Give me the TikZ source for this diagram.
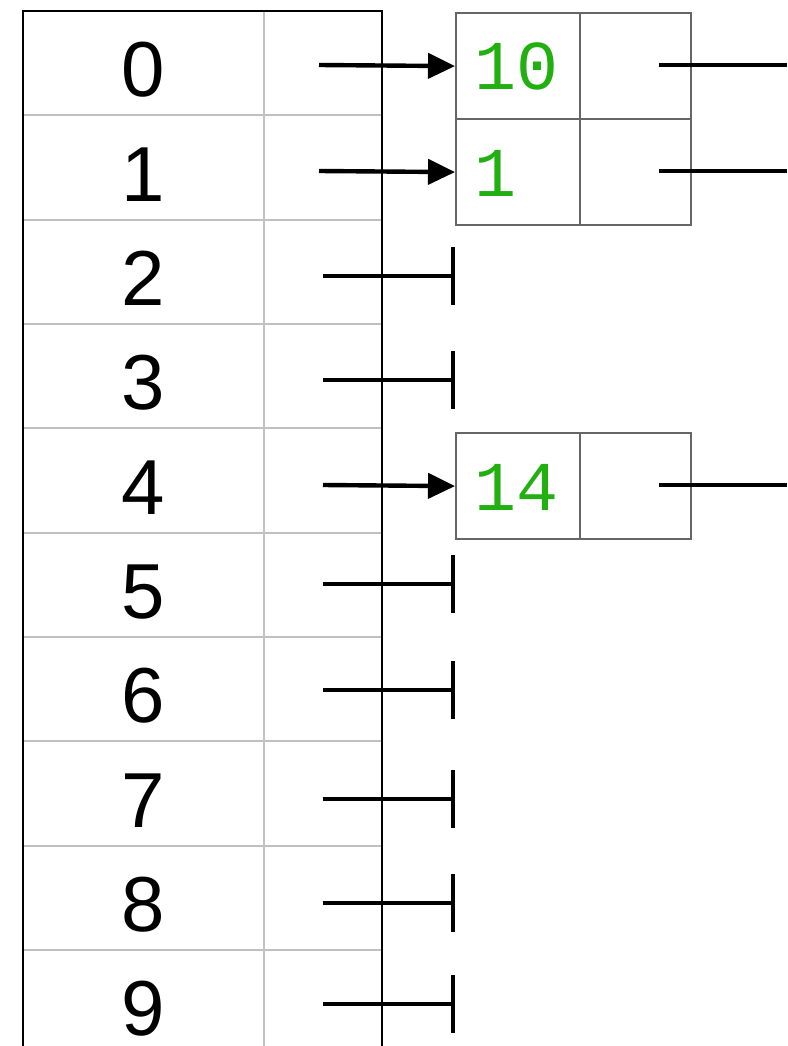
\documentclass[tikz,border=0pt]{standalone}
\usepackage{fontspec}
\setmainfont{Liberation Sans}
\newfontfamily\monof{Liberation Mono}
\usetikzlibrary{arrows.meta}
\definecolor{keygreen}{HTML}{22B011}
\definecolor{boxgray}{HTML}{666666}
\definecolor{gridgray}{HTML}{C0C0C0}
\tikzset{
  gridline/.style={draw=gridgray, line width=2pt},
  border/.style={draw=black, line width=2pt},
  cell/.style={draw=boxgray, line width=2.2pt, rectangle, anchor=north west, inner sep=0pt, minimum height=106pt},
  keycell/.style={cell, minimum width=124pt},
  nextcell/.style={cell, minimum width=111pt},
  idx/.style={anchor=base, inner sep=0pt, font=\fontsize{78}{80}\selectfont},
  keytext/.style={anchor=base west, inner sep=0pt, text=keygreen, font=\monof\fontsize{70}{72}\selectfont},
  ptr/.style={line width=4.4pt, -{Triangle[length=27pt,width=25pt]}},
  nullptr/.style={line width=4.4pt, -{Bar[width=58pt]}},
  outline/.style={line width=4.4pt},
}
\begin{document}
\begin{tikzpicture}[x=1pt,y=-1pt]
\useasboundingbox (0,0) rectangle (787,1046);
% table grid
\foreach \i in {1,...,9} {
  \draw[gridline] (23,{11+104.33*\i}) -- (382,{11+104.33*\i});
}
\draw[gridline] (264,11) -- (264,1046);
\draw[border] (23,1046) -- (23,11) -- (382,11) -- (382,1046);
% index labels
\foreach \i in {0,...,9} {
  \node[idx] (r\i) at (143,{97+104.33*\i}) {\i};
}
% list nodes
\node[keycell] (k0) at (455,12) {};
\node[nextcell] (n0) at (579,12) {};
\node[keycell] (k1) at (455,118) {};
\node[nextcell] (n1) at (579,118) {};
\node[keycell] (k4) at (455,432) {};
\node[nextcell] (n4) at (579,432) {};
\node[keytext] (t0) at (474,90) {10};
\node[keytext] (t1) at (474,196) {1};
\node[keytext] (t4) at (474,510) {14};
% pointer starts
\coordinate (p0) at (319,65);
\coordinate (p1) at (319,171);
\coordinate (p4) at (323,485);
\draw[ptr] (p0) -- (k0.west);
\draw[ptr] (p1) -- (k1.west);
\draw[ptr] (p4) -- (k4.west);
% null pointers
\foreach \i/\y in {2/276,3/380,5/584,6/690,7/799,8/903,9/1004} {
  \coordinate (s\i) at (323,\y);
  \coordinate (z\i) at (455,\y);
  \draw[nullptr] (s\i) -- (z\i);
}
% next pointers leaving the picture
\coordinate (o0) at (659,65);
\coordinate (e0) at (787,65);
\coordinate (o1) at (659,171);
\coordinate (e1) at (787,171);
\coordinate (o4) at (659,485);
\coordinate (e4) at (787,485);
\draw[outline] (o0) -- (e0);
\draw[outline] (o1) -- (e1);
\draw[outline] (o4) -- (e4);
\end{tikzpicture}
\end{document}
